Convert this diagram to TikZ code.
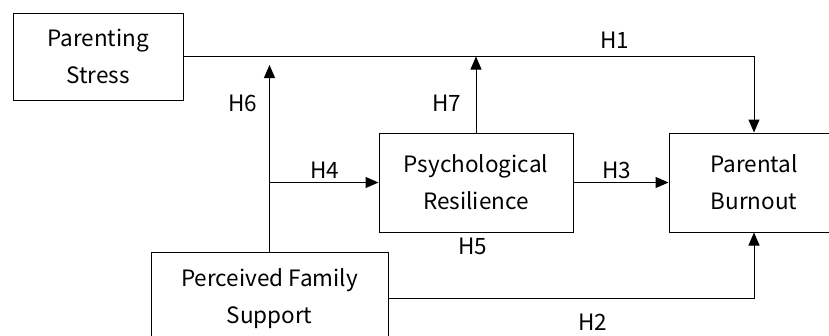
\documentclass[tikz,border=0pt]{standalone}
\usepackage{fontspec}
\setmainfont{Noto Sans CJK SC}
\usetikzlibrary{arrows.meta}
\begin{document}
\begin{tikzpicture}[x=1pt,y=-1pt,
  box/.style={draw,line width=1pt,align=center,inner sep=0pt,font=\fontsize{22.5}{37}\selectfont},
  lbl/.style={inner sep=0pt,font=\fontsize{22.5}{25}\selectfont},
  arr/.style={line width=1pt,-{Triangle[length=13pt,width=11pt]}},
  ln/.style={line width=1pt}]
\useasboundingbox (0,0) rectangle (829,335);
\clip (0,0) rectangle (829,335);
\node[box,minimum width=170pt,minimum height=87pt] (ps) at (98,56.5) {Parenting\\Stress};
\node[box,minimum width=194pt,minimum height=99pt] (pr) at (476,182.5) {Psychological\\Resilience};
\node[box,minimum width=170pt,minimum height=99pt] (pb) at (754,182.5) {Parental\\Burnout};
\node[box,minimum width=237pt,minimum height=93pt] (pf) at (269.5,298.5) {Perceived Family\\Support};
\coordinate (h6t) at (269.5,65);
\coordinate (h4s) at (269.5,182.5);
\draw[arr] (ps.east) -- (pb.north |- ps.east) -- (pb.north);
\draw[arr] (pf.north) -- (h6t);
\draw[arr] (pr.north) -- (pr.north |- ps.east);
\draw[arr] (h4s) -- (pr.west);
\draw[arr] (pr.east) -- (pb.west);
\draw[arr] (pf.east) -- (pb.south |- pf.east) -- (pb.south);
\node[lbl] (l1) at (615,40) {H1};
\node[lbl] (l6) at (243,103) {H6};
\node[lbl] (l7) at (447,103) {H7};
\node[lbl] (l4) at (325,170) {H4};
\node[lbl] (l3) at (617,170) {H3};
\node[lbl] (l5) at (473,246) {H5};
\node[lbl] (l2) at (593,322) {H2};
\end{tikzpicture}
\end{document}
